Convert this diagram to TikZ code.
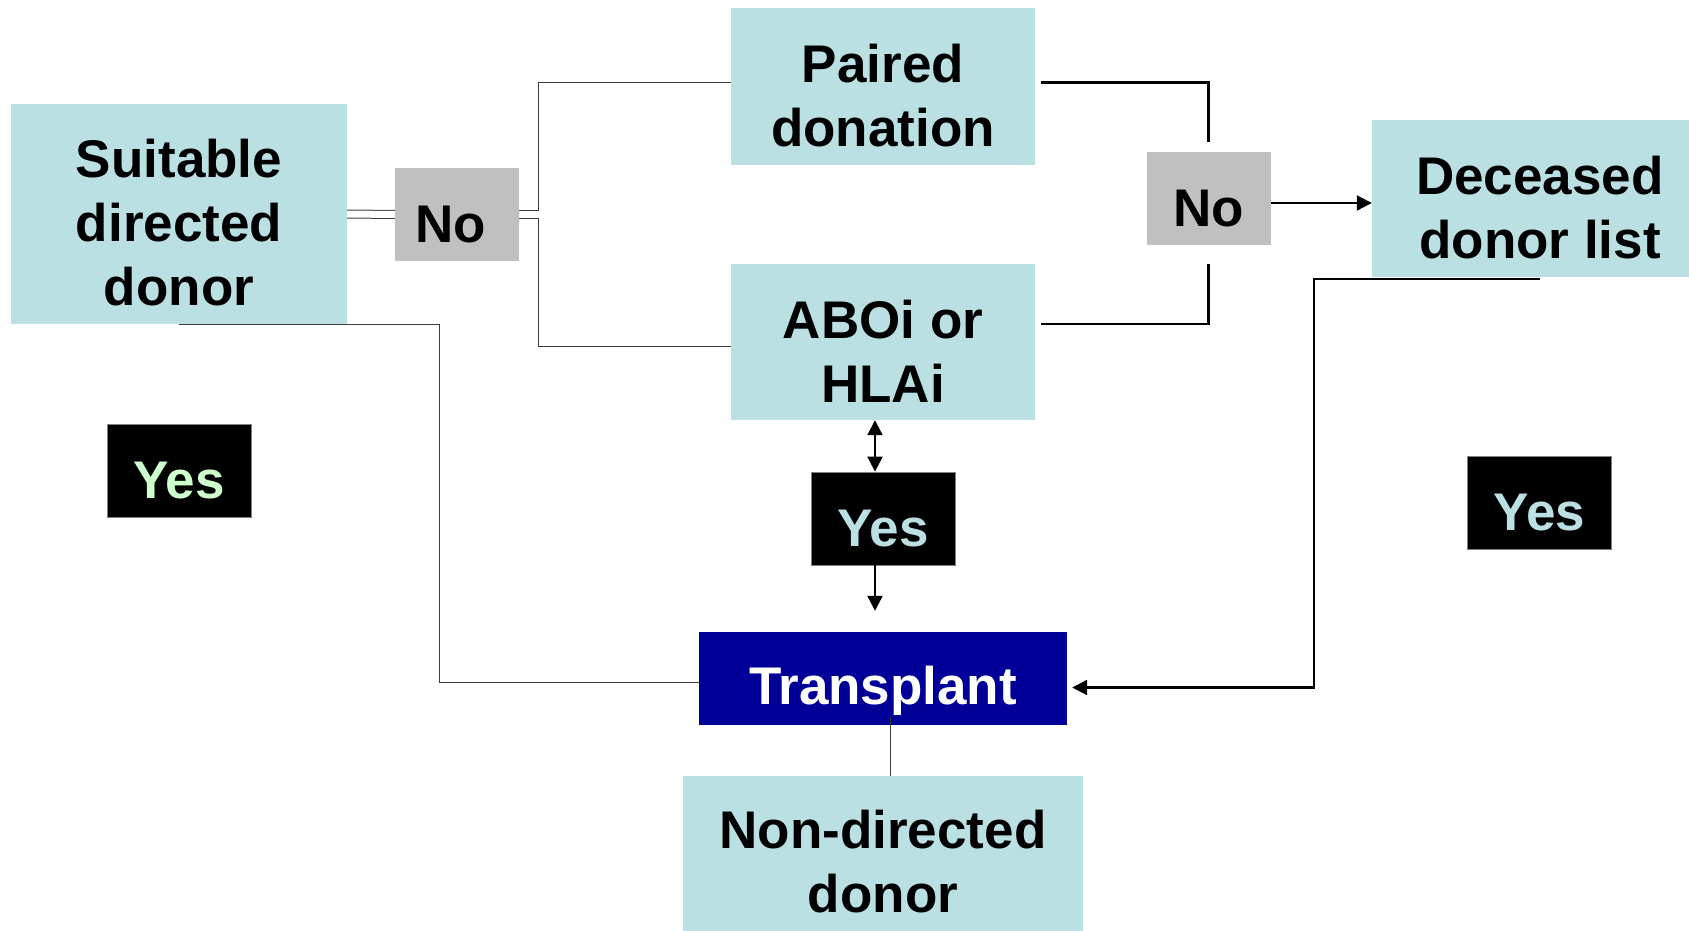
\documentclass[tikz,border=0pt]{standalone}
\usepackage{fontspec}
\setmainfont{Liberation Sans}
\usetikzlibrary{arrows.meta}

\definecolor{boxblue}{RGB}{187,224,227}
\definecolor{nogray}{RGB}{192,192,192}
\definecolor{txblue}{RGB}{0,0,153}
\definecolor{yesgreen}{RGB}{204,255,204}
\definecolor{linegray}{RGB}{60,60,60}

% strut that pushes the first line down a little
\newcommand{\firststrut}{\rule{0pt}{56pt}}

\begin{document}
\begin{tikzpicture}[x=1pt, y=-1pt,
	main/.style={rectangle, fill=boxblue, align=center, inner sep=0pt, font={\fontsize{53}{64}\selectfont\bfseries}},
	nobox/.style={main, fill=nogray, minimum width=124pt, minimum height=93pt, execute at begin node={\firststrut}},
	yesbox/.style={main, fill=black, draw=gray, line width=0.8pt, text=boxblue, minimum width=144pt, minimum height=93pt, execute at begin node={\firststrut}},
	thinline/.style={draw=linegray, line width=1pt},
	thickline/.style={draw=black, line width=2.2pt, >={Triangle[length=15pt,width=15pt]}}
	]

	\useasboundingbox (0,0) rectangle (1689,931);

	\node (suitable) [main, minimum width=336pt, minimum height=220pt] at (179,214) {\firststrut Suitable\\directed\\donor};
	\node (nol) [nobox] at (457,214.5) {No\kern12pt};

	\node (paired) [main, minimum width=304pt, minimum height=157pt] at (883,86.5) {\firststrut Paired\\donation};
	\node (aboi) [main, minimum width=304pt, minimum height=156pt] at (883,342) {\firststrut ABOi or\\HLAi};

	\node (nor) [nobox] at (1208.5,198.5) {No};
	\node (deceased) [main, minimum width=336pt, minimum height=157pt] at (1540,198.5) {\firststrut Deceased\\donor list};

	\node (yesl) [yesbox, text=yesgreen] at (179,470.5) {Yes};
	\node (yesm) [yesbox] at (883,518.5) {Yes};
	\node (yesr) [yesbox] at (1539.5,502.5) {Yes};

	\node (transplant) [main, fill=txblue, text=white, minimum width=368pt, minimum height=93pt, execute at begin node={\rule{0pt}{63pt}}] at (883,678.5) {Transplant};
	\node (nondirected) [main, minimum width=400pt, minimum height=172pt] at (883,862) {Non-directed\\donor};

	\draw [thinline, double, double distance=7pt] (suitable.east) -- (nol.west);
	\draw [thinline] ([yshift=4pt]nol.east) -- ++(19,0) |- ([yshift=4pt]paired.west);
	\draw [thinline] ([yshift=-4pt]nol.east) -- ++(19,0) |- ([yshift=-4.5pt]aboi.west);

	\draw [thickline] ([xshift=6pt,yshift=4pt]paired.east) -| ([yshift=10pt]nor.north);
	\draw [thickline] ([xshift=6pt,yshift=18pt]aboi.east) -| ([yshift=-19pt]nor.south);
	\draw [thickline, ->] ([yshift=-4.5pt]nor.east) -- ([yshift=-4.5pt]deceased.west);

	\draw [thickline, ->] ([yshift=-2pt]deceased.south) -- ++(-226,0) |- ([xshift=5pt,yshift=-9pt]transplant.east);
	\draw [thinline] (suitable.south) -- ++(260,0) |- ([yshift=-3.5pt]transplant.west);

	\draw [thickline, <->] ([xshift=-8pt]aboi.south) -- ([xshift=-8pt]yesm.north);
	\draw [thickline, ->] ([xshift=-8pt]yesm.south) -- ([xshift=-8pt,yshift=21pt]transplant.north);
	\draw [thinline] ([xshift=7pt,yshift=8pt]transplant.south) -- ([xshift=7pt]nondirected.north);

\end{tikzpicture}
\end{document}
